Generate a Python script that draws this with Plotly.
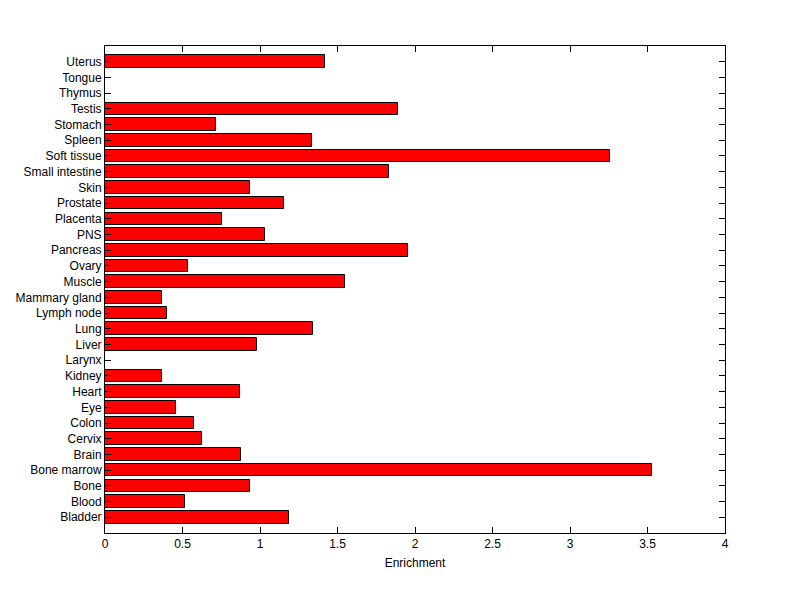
import plotly.graph_objects as go

tissues = ["Bladder", "Blood", "Bone", "Bone marrow", "Brain", "Cervix", "Colon", "Eye",
           "Heart", "Kidney", "Larynx", "Liver", "Lung", "Lymph node", "Mammary gland",
           "Muscle", "Ovary", "Pancreas", "PNS", "Placenta", "Prostate", "Skin",
           "Small intestine", "Soft tissue", "Spleen", "Stomach", "Testis", "Thymus",
           "Tongue", "Uterus"]
enrichment = [1.187, 0.516, 0.938, 3.529, 0.877, 0.626, 0.574, 0.460,
              0.871, 0.370, 0.0, 0.981, 1.342, 0.400, 0.370,
              1.548, 0.538, 1.955, 1.032, 0.757, 1.155, 0.935,
              1.832, 3.260, 1.335, 0.719, 1.890, 0.0,
              0.0, 1.419]
x_ticks = [0, 0.5, 1, 1.5, 2, 2.5, 3, 3.5, 4]
x_tick_labels = ["0", "0.5", "1", "1.5", "2", "2.5", "3", "3.5", "4"]

idx = list(range(len(tissues)))

fig = go.Figure(go.Bar(
    x=enrichment, y=idx, orientation="h", width=0.8,
    marker=dict(color="#ff0000", line=dict(color="black", width=1)),
))

font = dict(family="Liberation Sans, Arial, sans-serif", size=12, color="black")
fig.update_layout(
    width=800, height=599,
    margin=dict(l=97, r=83, t=38, b=74),
    paper_bgcolor="white", plot_bgcolor="white",
    showlegend=False, font=font, bargap=0,
    xaxis=dict(range=[0, 4], tickvals=x_ticks, ticktext=x_tick_labels,
               showgrid=False, zeroline=False, showline=True, linecolor="black",
               linewidth=1, mirror="ticks", ticks="inside", ticklen=6,
               tickcolor="black", automargin=False,
               title=dict(text="Enrichment", font=font, standoff=8)),
    yaxis=dict(range=[-1, len(tissues)], tickvals=idx, ticktext=tissues,
               showgrid=False, zeroline=False, showline=True, linecolor="black",
               linewidth=1, mirror="ticks", ticks="inside", ticklen=6,
               tickcolor="black", automargin=False),
)

fig.write_html("out.html")
